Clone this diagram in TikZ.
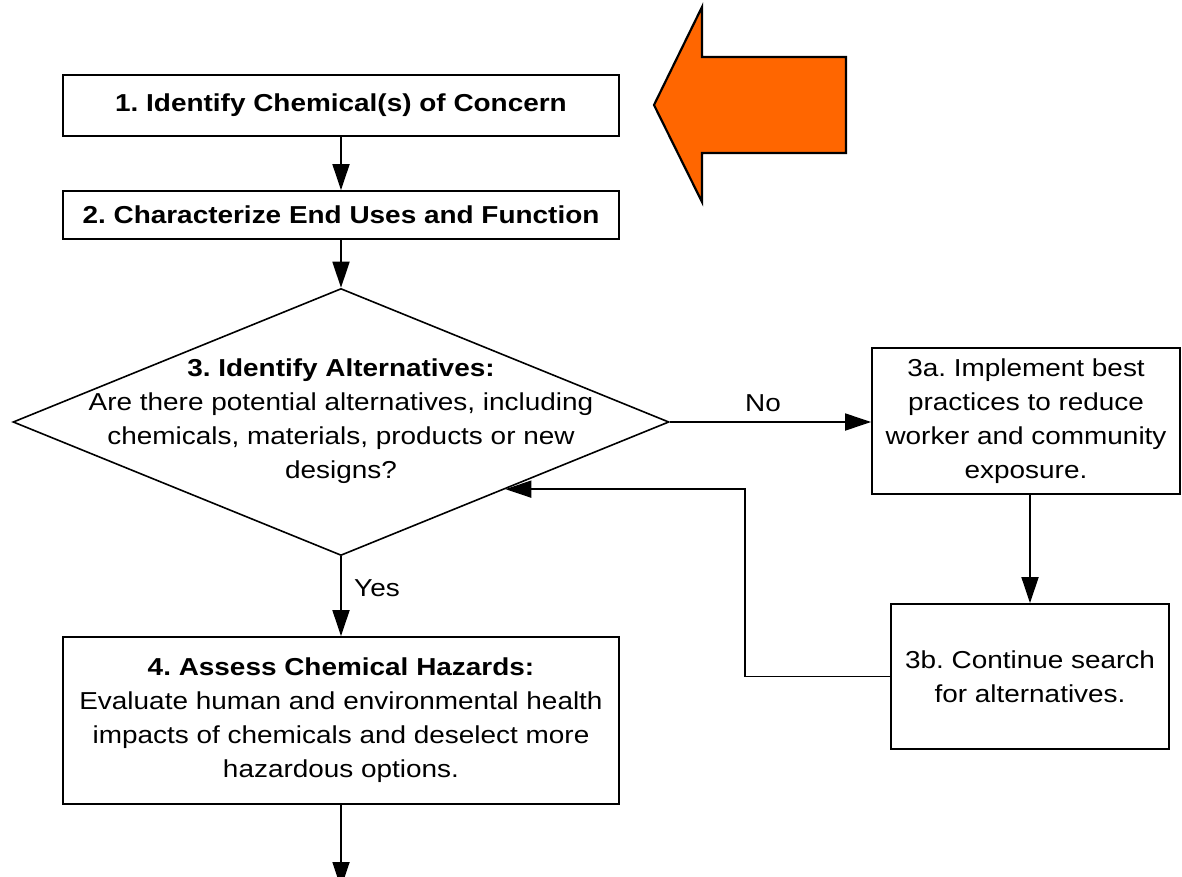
\documentclass[tikz,border=0pt]{standalone}
\usepackage{fontspec}
\setmainfont[FakeStretch=1.14]{Liberation Sans}
\usetikzlibrary{arrows.meta,shapes.geometric}
\definecolor{arroworange}{HTML}{FF6600}
\frenchspacing
\tikzset{
  every node/.style={font=\fontsize{24.5pt}{34pt}\selectfont\frenchspacing, text=black},
  stepbox/.style={draw=black, line width=1.8pt, fill=white, rectangle, inner sep=0pt, align=center},
  decision/.style={draw=black, line width=1.6pt, diamond, inner sep=0pt},
  arr/.style={draw=black, line width=1.8pt, -{Triangle[length=26pt,width=17pt]}},
  label/.style={inner sep=0pt}
}
\begin{document}
\begin{tikzpicture}[x=1pt,y=-1pt]
\clip (0,0) rectangle (1182,877);
\fill[white] (0,0) rectangle (1182,877);

% orange arrow
\draw[fill=arroworange, draw=black, line width=2.2pt, line join=miter]
  (654,105) -- (702,7) -- (702,57) -- (846,57) -- (846,153) -- (702,153) -- (702,202) -- cycle;

\node[stepbox, minimum width=556pt, minimum height=61pt] (b1) at (341,105.5) {\textbf{1. Identify Chemical(s) of Concern}};
\node[stepbox, minimum width=556pt, minimum height=48pt] (b2) at (341,215) {\textbf{2. Characterize End Uses and Function}};

\node[decision, minimum width=656pt, minimum height=267pt] (d3) at (341,422) {};
\node[align=center, inner sep=0pt] (d3t) at (341,421) {\textbf{3. Identify Alternatives:}\\Are there potential alternatives, including\\chemicals, materials, products or new\\designs?};

\node[stepbox, minimum width=308pt, minimum height=146pt] (b3a) at (1026,421) {3a. Implement best\\practices to reduce\\worker and community\\exposure.};
\node[stepbox, minimum width=278pt, minimum height=145pt] (b3b) at (1030,676.5) {3b. Continue search\\for alternatives.};

\node[stepbox, minimum width=556pt, minimum height=167pt] (b4) at (341,720.5) {\textbf{4. Assess Chemical Hazards:}\\Evaluate human and environmental health\\impacts of chemicals and deselect more\\hazardous options.};

\node[label] (no) at (763,403) {No};
\node[label, anchor=west] (yes) at (354,588) {Yes};

\coordinate (end) at (341,888);

\draw[arr] (b1.south) -- (b2.north);
\draw[arr] (b2.south) -- (d3.north);
\draw[arr] (d3.east) -- (d3.east -| b3a.west);
\draw[arr] (b3a.south -| b3b.north) -- (b3b.north);
\draw[arr] (b3b.west) -- ++(-145pt,0) |- (d3.south east);
\draw[arr] (d3.south) -- (b4.north);
\draw[arr] (b4.south) -- (end);
\end{tikzpicture}
\end{document}
